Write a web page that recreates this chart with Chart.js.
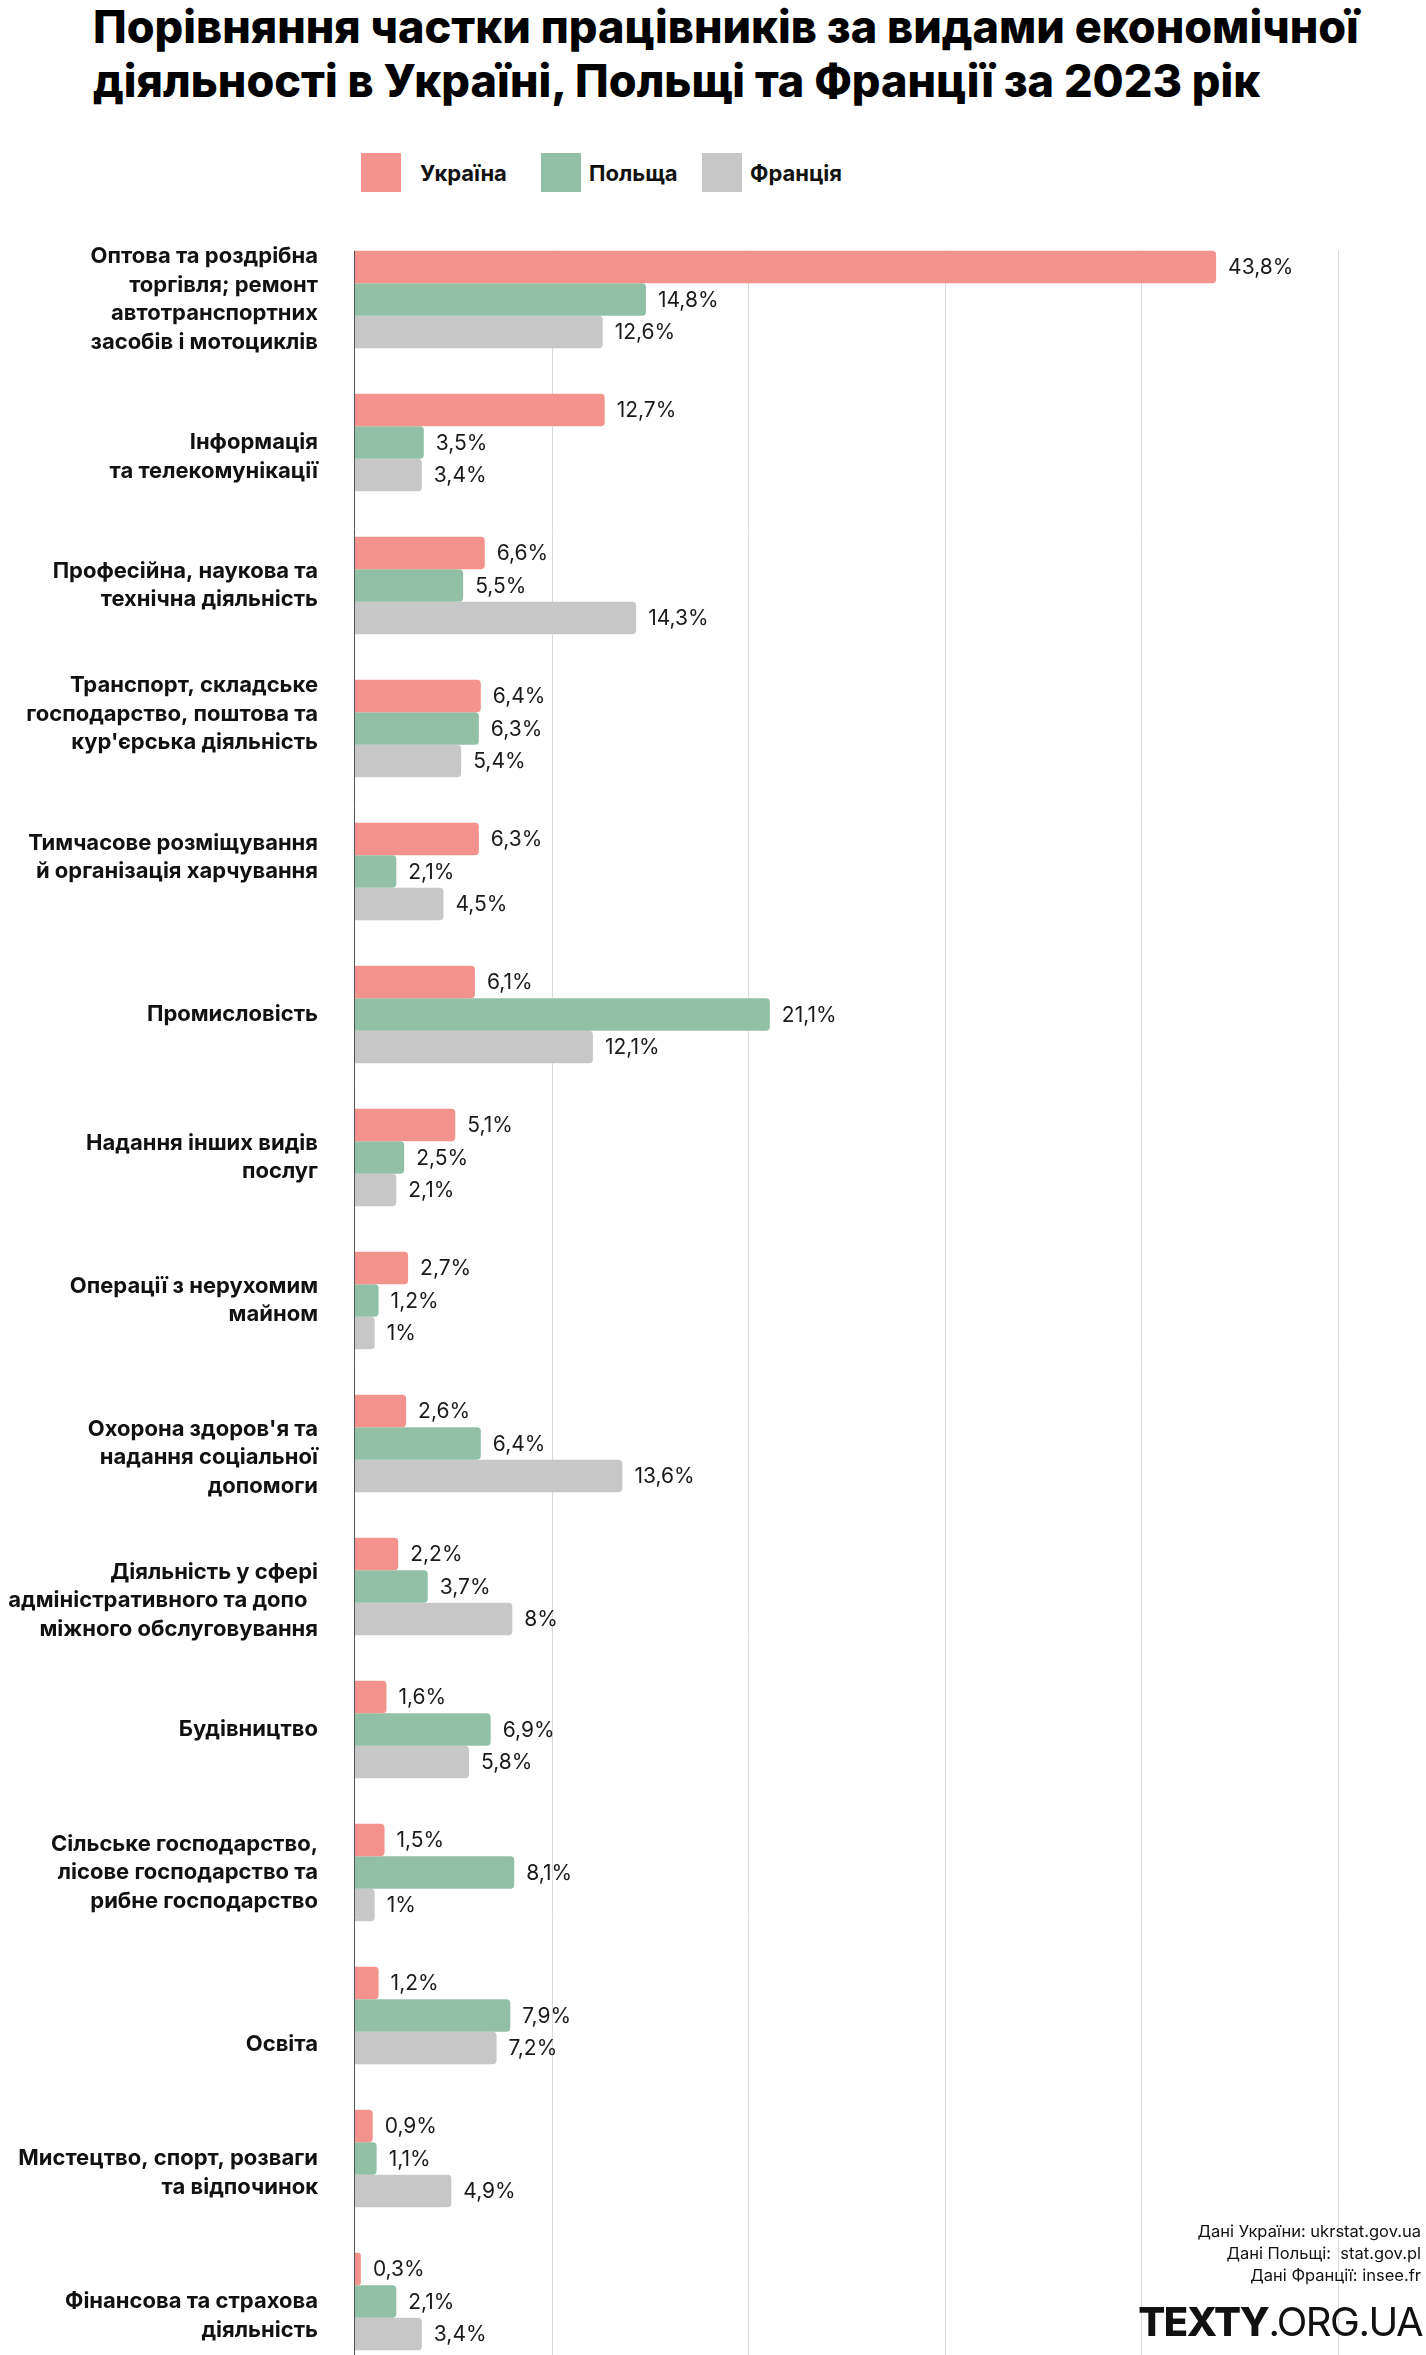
<!DOCTYPE html>
<html lang="uk">
<head>
<meta charset="UTF-8">
<meta name="viewport" content="width=device-width, initial-scale=1.0">
<title>Частка працівників за видами діяльності</title>
<style>
  html, body { margin: 0; padding: 0; background: #fff; }
  body { width: 1426px; height: 2355px; overflow: hidden; position: relative; font-family: Inter, "Noto Sans", sans-serif; color: #111; }
  #grafico { position: absolute; left: 0; top: 0; }
  .titulo { position: absolute; left: 93px; top: 0px; margin: 0; font-size: 45px; line-height: 54px; font-weight: 800; color: #000; white-space: nowrap; }
  .legenda .item { position: absolute; top: 153px; height: 39px; display: flex; align-items: center; font-weight: 700; font-size: 22px; color: #111; }
  .legenda .caixa { width: 40px; height: 39px; display: inline-block; margin-right: 8px; }
  .legenda .item:nth-child(1) { left: 361px; }
  .legenda .item:nth-child(1) .caixa { margin-right: 19px; }
  .legenda .item:nth-child(2) { left: 541px; }
  .legenda .item:nth-child(3) { left: 702px; }
  .fonte { position: absolute; right: 5px; top: 2220px; font-size: 16.5px; line-height: 22px; text-align: right; color: #111; }
  .logo { position: absolute; right: 4px; top: 2302px; font-size: 40px; line-height: 40px; color: #111; letter-spacing: -1.5px; }
  .logo b { font-weight: 800; }
</style>
</head>
<body>
<h1 class="titulo">Порівняння частки працівників за видами економічної<br>діяльності в Україні, Польщі та Франції за 2023 рік</h1>
<div class="legenda" id="legenda"></div>
<canvas id="grafico" width="1426" height="2473"></canvas>
<div class="fonte">Дані України: ukrstat.gov.ua<br>Дані Польщі:&nbsp; stat.gov.pl<br>Дані Франції: insee.fr</div>
<div class="logo"><b>TEXTY</b>.ORG.UA</div>

<script src="https://cdn.jsdelivr.net/npm/chart.js"></script>
<script>
// категорії (порожні рядки лише зсувають підпис по вертикалі, як в оригіналі)
const categorias = [
  ['Оптова та роздрібна', 'торгівля; ремонт', 'автотранспортних', 'засобів і мотоциклів'],
  ['', 'Інформація', 'та телекомунікації'],
  ['Професійна, наукова та', 'технічна діяльність'],
  ['Транспорт, складське', 'господарство, поштова та', "кур'єрська діяльність", ''],
  ['Тимчасове розміщування', 'й організація харчування', ''],
  ['Промисловість'],
  ['Надання інших видів', 'послуг'],
  ['Операції з нерухомим', 'майном'],
  ['', "Охорона здоров'я та", 'надання соціальної', 'допомоги'],
  ['', 'Діяльність у сфері', 'адміністративного та допо  ', 'міжного обслуговування'],
  ['Будівництво'],
  ['Сільське господарство,', 'лісове господарство та', 'рибне господарство'],
  ['', '', 'Освіта'],
  ['', 'Мистецтво, спорт, розваги', 'та відпочинок'],
  ['', 'Фінансова та страхова', 'діяльність']
];

const paises = ['Україна', 'Польща', 'Франція'];
const cores = ['#F4928D', '#92C0A6', '#C7C7C7'];

const ucrania = [43.8, 12.7, 6.6, 6.4, 6.3, 6.1, 5.1, 2.7, 2.6, 2.2, 1.6, 1.5, 1.2, 0.9, 0.3];
const polonia = [14.8, 3.5, 5.5, 6.3, 2.1, 21.1, 2.5, 1.2, 6.4, 3.7, 6.9, 8.1, 7.9, 1.1, 2.1];
const franca  = [12.6, 3.4, 14.3, 5.4, 4.5, 12.1, 2.1, 1, 13.6, 8, 5.8, 1, 7.2, 4.9, 3.4];

const marcasX = [0, 10, 20, 30, 40, 50];

// легенда
const legenda = document.getElementById('legenda');
paises.forEach(function (p, i) {
  legenda.innerHTML += '<div class="item"><span class="caixa" style="background:' + cores[i] + '"></span>' + p + '</div>';
});

// сітка та вісь від верху першої групи до низу
const grade = {
  id: 'grade',
  beforeDatasetsDraw(chart) {
    const ctx = chart.ctx;
    const x = chart.scales.x;
    const primeira = chart.getDatasetMeta(0).data[0];
    const topo = primeira.y - primeira.height / 2;
    ctx.save();
    ctx.lineWidth = 1;
    ctx.strokeStyle = '#dadada';
    marcasX.slice(1).forEach(function (v) {
      const px = Math.round(x.getPixelForValue(v)) + 0.5;
      ctx.beginPath();
      ctx.moveTo(px, topo);
      ctx.lineTo(px, chart.height);
      ctx.stroke();
    });
    ctx.strokeStyle = '#555';
    const x0 = Math.round(x.getPixelForValue(marcasX[0])) - 0.5;
    ctx.beginPath();
    ctx.moveTo(x0, topo);
    ctx.lineTo(x0, chart.height);
    ctx.stroke();
    ctx.restore();
  }
};

// підписи значень
const rotulos = {
  id: 'rotulos',
  afterDatasetsDraw(chart) {
    const ctx = chart.ctx;
    ctx.save();
    ctx.font = '21px Inter, "Noto Sans", sans-serif';
    ctx.fillStyle = '#1a1a1a';
    ctx.textBaseline = 'middle';
    chart.data.datasets.forEach(function (ds, i) {
      chart.getDatasetMeta(i).data.forEach(function (bar, j) {
        const txt = String(ds.data[j]).replace('.', ',') + '%';
        ctx.fillText(txt, bar.x + 12, bar.y + 1);
      });
    });
    ctx.restore();
  }
};

const ctx = document.getElementById('grafico');
new Chart(ctx, {
  type: 'bar',
  data: {
    labels: categorias,
    datasets: [
      { label: paises[0], data: ucrania, backgroundColor: cores[0] },
      { label: paises[1], data: polonia, backgroundColor: cores[1] },
      { label: paises[2], data: franca, backgroundColor: cores[2] }
    ]
  },
  options: {
    indexAxis: 'y',
    responsive: false,
    animation: false,
    layout: { padding: { top: 228, right: 88, bottom: 100, left: 0 } },
    datasets: { bar: { categoryPercentage: 0.682, barPercentage: 1, borderRadius: 4 } },
    plugins: {
      legend: { display: false },
      tooltip: { enabled: false }
    },
    scales: {
      x: { display: false, min: marcasX[0], max: marcasX[marcasX.length - 1] },
      y: {
        afterFit(scale) { scale.width = 355; },
        grid: { display: false, drawTicks: false },
        border: { display: false },
        ticks: {
          autoSkip: false,
          padding: 37,
          color: '#111',
          font: { family: 'Inter, "Noto Sans", sans-serif', weight: 'bold', size: 22, lineHeight: 1.3 }
        }
      }
    }
  },
  plugins: [grade, rotulos]
});
</script>
</body>
</html>
